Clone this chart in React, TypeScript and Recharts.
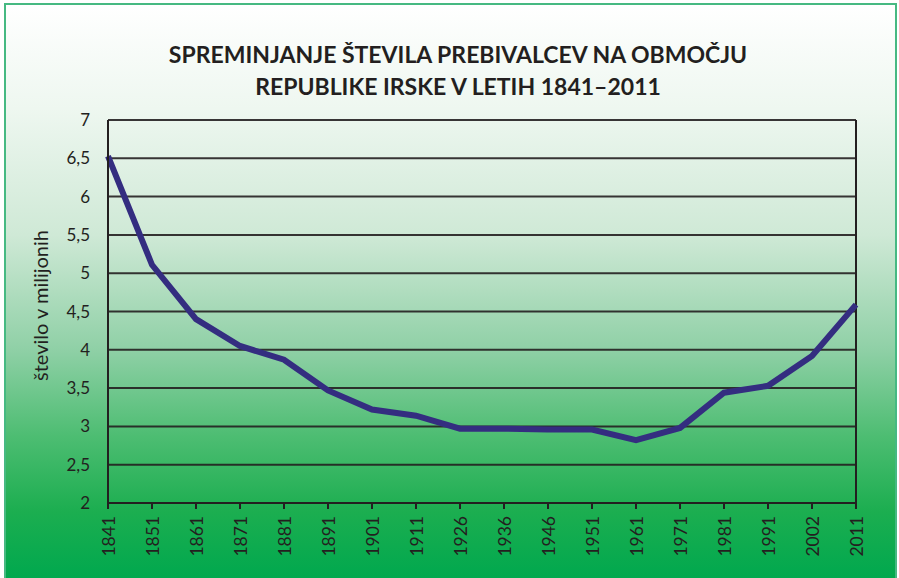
import React from "react";
import {
  LineChart,
  Line,
  XAxis,
  YAxis,
  CartesianGrid,
  ReferenceLine,
} from "recharts";

// ---------- data ----------

const YEARS = [
  "1841", "1851", "1861", "1871", "1881", "1891", "1901", "1911", "1926",
  "1936", "1946", "1951", "1961", "1971", "1981", "1991", "2002", "2011",
];

const POPULATION = [
  6.53, 5.11, 4.40, 4.05, 3.87, 3.47, 3.22, 3.14, 2.97,
  2.97, 2.96, 2.96, 2.82, 2.98, 3.44, 3.53, 3.92, 4.59,
];

const Y_TICKS = [2, 2.5, 3, 3.5, 4, 4.5, 5, 5.5, 6, 6.5, 7];

const data = YEARS.map((year, i) => ({ year, value: POPULATION[i] }));

const FONT = "Lato, 'Open Sans', sans-serif";
const INK = "#231f20";

function YearTick({ x, y, payload }: any) {
  return (
    <text
      x={x}
      y={y + 5}
      transform={`rotate(-90, ${x}, ${y + 5})`}
      textAnchor="end"
      dominantBaseline="central"
      fontFamily={FONT}
      fontSize={17.5}
      fill={INK}
    >
      {payload.value}
    </text>
  );
}

export default function App() {
  return (
    <div
      style={{
        position: "absolute",
        left: 0,
        top: 0,
        width: 899,
        height: 578,
        background: "#ffffff",
      }}
    >
      <div
        style={{
          position: "absolute",
          left: 4,
          top: 3,
          width: 889,
          height: 575,
          border: "2px solid #46b982",
          borderBottom: "none",
          background:
            "linear-gradient(to bottom, #ffffff 0%, #eef7f0 18%, #cfe9d6 40%, #8fd0a6 60%, #4dbd72 75%, #1cae50 88%, #00a84e 100%)",
        }}
      />
      <div
        style={{
          position: "absolute",
          left: 0,
          top: 38,
          width: 916,
          textAlign: "center",
          fontFamily: FONT,
          fontWeight: 700,
          fontSize: 23,
          lineHeight: "32px",
          color: INK,
        }}
      >
        SPREMINJANJE ŠTEVILA PREBIVALCEV NA OBMOČJU
        <br />
        REPUBLIKE IRSKE V LETIH 1841–2011
      </div>
      <div style={{ position: "absolute", left: 0, top: 0 }}>
        <LineChart
          width={899}
          height={578}
          data={data}
          margin={{ top: 120, right: 43, bottom: 15, left: 48 }}
        >
          <CartesianGrid
            vertical={false}
            stroke={INK}
            strokeWidth={2}
            strokeOpacity={0.9}
          />
          <XAxis
            dataKey="year"
            height={60}
            interval={0}
            tick={<YearTick />}
            tickSize={6}
            axisLine={{ stroke: INK, strokeWidth: 2 }}
            tickLine={{ stroke: INK, strokeWidth: 2 }}
          />
          <YAxis
            domain={[2, 7]}
            ticks={Y_TICKS}
            width={60}
            tickLine={false}
            tickMargin={12}
            axisLine={{ stroke: INK, strokeWidth: 2 }}
            tickFormatter={(v: number) => String(v).replace(".", ",")}
            tick={{ fontFamily: FONT, fontSize: 17, fill: INK }}
            label={{
              value: "število v milijonih",
              angle: -90,
              position: "insideLeft",
              offset: -7,
              dy: -6,
              style: {
                fontFamily: FONT,
                fontSize: 20,
                fill: INK,
                textAnchor: "middle",
              },
            }}
          />
          <ReferenceLine x="2011" stroke={INK} strokeWidth={2} />
          <Line
            type="linear"
            dataKey="value"
            stroke="#342d80"
            strokeWidth={6}
            dot={false}
            isAnimationActive={false}
          />
        </LineChart>
      </div>
    </div>
  );
}
